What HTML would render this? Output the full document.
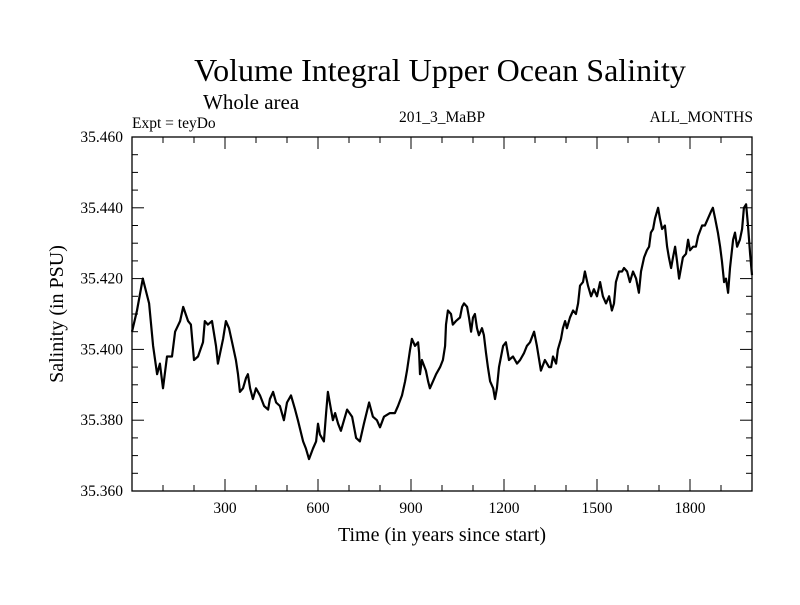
<!DOCTYPE html>
<html><head><meta charset="utf-8"><style>
body{margin:0;background:#fff;}
svg text{font-family:"Liberation Serif",serif;fill:#000;}
</style></head><body>
<svg id="chart" width="800" height="600" xmlns="http://www.w3.org/2000/svg">
<rect width="800" height="600" fill="#fff"/>
<text x="440" y="81" font-size="32" text-anchor="middle">Volume Integral Upper Ocean Salinity</text>
<text x="203" y="109" font-size="21">Whole area</text>
<text x="132" y="128" font-size="15.5">Expt = teyDo</text>
<text x="442" y="122" font-size="15.5" text-anchor="middle">201_3_MaBP</text>
<text x="753" y="122" font-size="15.5" text-anchor="end">ALL_MONTHS</text>
<g id="axes"></g>
<g id="series"></g>
<text x="442" y="541" font-size="20" text-anchor="middle">Time (in years since start)</text>
<text x="0" y="0" font-size="20" text-anchor="middle" transform="translate(63,314) rotate(-90)">Salinity (in PSU)</text>
</svg>
<script>
const years=[0,16,35,55,68,81,90,100,113,129,139,155,165,181,190,200,213,229,235,245,258,271,277,294,303,313,323,335,342,348,358,368,374,381,390,400,413,426,439,445,455,465,477,490,500,513,526,535,552,561,571,584,594,600,606,619,626,632,642,648,655,665,674,684,694,710,723,735,748,765,777,790,800,813,832,848,858,871,881,887,897,903,913,923,926,929,935,948,955,961,971,981,994,1003,1010,1013,1019,1029,1035,1045,1058,1065,1071,1081,1087,1094,1100,1106,1113,1119,1129,1135,1142,1148,1155,1165,1171,1177,1184,1197,1206,1216,1229,1242,1252,1265,1274,1284,1297,1306,1319,1332,1345,1352,1358,1368,1374,1384,1390,1397,1403,1413,1423,1432,1439,1445,1455,1461,1471,1481,1490,1500,1510,1519,1529,1539,1548,1555,1561,1571,1581,1587,1597,1606,1616,1626,1635,1642,1652,1661,1668,1674,1681,1687,1697,1703,1710,1719,1726,1732,1739,1745,1752,1758,1765,1771,1777,1787,1794,1800,1810,1819,1826,1839,1848,1858,1868,1874,1881,1890,1897,1903,1910,1916,1923,1929,1939,1945,1952,1961,1968,1974,1981,1987,1994,2000];
const salinity=[35.405,35.411,35.420,35.413,35.401,35.393,35.396,35.389,35.398,35.398,35.405,35.408,35.412,35.408,35.407,35.397,35.398,35.402,35.408,35.407,35.408,35.401,35.396,35.403,35.408,35.406,35.402,35.397,35.393,35.388,35.389,35.392,35.393,35.389,35.386,35.389,35.387,35.384,35.383,35.386,35.388,35.385,35.384,35.380,35.385,35.387,35.383,35.380,35.374,35.372,35.369,35.372,35.374,35.379,35.376,35.374,35.382,35.388,35.383,35.380,35.382,35.379,35.377,35.380,35.383,35.381,35.375,35.374,35.379,35.385,35.381,35.380,35.378,35.381,35.382,35.382,35.384,35.387,35.391,35.394,35.400,35.403,35.401,35.402,35.399,35.393,35.397,35.394,35.391,35.389,35.391,35.393,35.395,35.397,35.401,35.407,35.411,35.410,35.407,35.408,35.409,35.412,35.413,35.412,35.409,35.405,35.409,35.410,35.406,35.404,35.406,35.404,35.399,35.395,35.391,35.389,35.386,35.389,35.395,35.401,35.402,35.397,35.398,35.396,35.397,35.399,35.401,35.402,35.405,35.401,35.394,35.397,35.395,35.395,35.398,35.396,35.400,35.403,35.406,35.408,35.406,35.409,35.411,35.410,35.413,35.418,35.419,35.422,35.418,35.415,35.417,35.415,35.419,35.415,35.413,35.415,35.411,35.413,35.419,35.422,35.422,35.423,35.422,35.419,35.422,35.420,35.416,35.422,35.426,35.428,35.429,35.433,35.434,35.437,35.440,35.437,35.434,35.435,35.429,35.426,35.423,35.426,35.429,35.425,35.420,35.423,35.426,35.427,35.431,35.428,35.429,35.429,35.432,35.435,35.435,35.437,35.439,35.440,35.437,35.433,35.429,35.425,35.419,35.420,35.416,35.423,35.431,35.433,35.429,35.431,35.434,35.440,35.441,35.435,35.427,35.421];
const xTickLabels=[300,600,900,1200,1500,1800];
const yTickLabels=["35.360","35.380","35.400","35.420","35.440","35.460"];
const NS="http://www.w3.org/2000/svg";
const L=132,R=752,T=137,B=491,X0=0,X1=2000,Y0=35.36,Y1=35.46;
function xs(v){return L+(v-X0)/(X1-X0)*(R-L);}
function ys(v){return B-(v-Y0)/(Y1-Y0)*(B-T);}
function mk(tag,attrs,parent){const e=document.createElementNS(NS,tag);for(const k in attrs)e.setAttribute(k,attrs[k]);parent.appendChild(e);return e;}
const ax=document.getElementById('axes');
const frame=mk('rect',{x:L,y:T,width:R-L,height:B-T,fill:'none',stroke:'#000','stroke-width':1.3},ax);


for(let yr=100;yr<2000;yr+=100){
  const major=yr%300===0;const len=major?12:6;const x=xs(yr);
  const t1=mk('line',{x1:x,x2:x,y1:B,y2:B-len,stroke:'#000','stroke-width':1},ax);
  
  
  const t2=mk('line',{x1:x,x2:x,y1:T,y2:T+len,stroke:'#000','stroke-width':1},ax);
  
  
}
for(let i=1;i<20;i++){
  const v=Y0+i*0.005;const major=i%4===0;const len=major?12:6;const y=ys(v);
  const t1=mk('line',{x1:L,x2:L+len,y1:y,y2:y,stroke:'#000','stroke-width':1},ax);
  
  
  const t2=mk('line',{x1:R,x2:R-len,y1:y,y2:y,stroke:'#000','stroke-width':1},ax);
  
  
}
xTickLabels.forEach(v=>{
  const t=mk('text',{x:xs(v),y:513,'font-size':15.5,'text-anchor':'middle'},ax);
  t.textContent=v;
  
  
});
yTickLabels.forEach(s=>{
  const t=mk('text',{x:123,y:ys(parseFloat(s))+5,'font-size':15.5,'text-anchor':'end'},ax);
  t.textContent=s;
  
  
});
const d=years.map((yr,i)=>(i?'L':'M')+xs(yr).toFixed(1)+','+ys(salinity[i]).toFixed(1)).join(' ');
const p=mk('path',{d:d,fill:'none',stroke:'#000','stroke-width':2.2,'stroke-linejoin':'round'},document.getElementById('series'));


</script>
</body></html>
